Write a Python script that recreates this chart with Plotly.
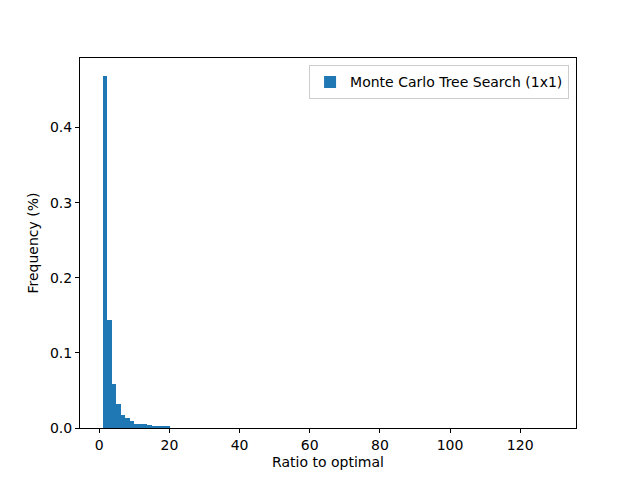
import plotly.graph_objects as go

# histogram of ratio to optimal (density, 100 bins over ~1..128), only visible bins
bin_left = [1.0, 2.27, 3.54, 4.81, 6.08, 7.35, 8.62, 9.89, 11.16, 12.43, 13.7, 14.97, 16.24, 17.51, 18.78]
bin_width = 1.27
freq = [0.469, 0.144, 0.058, 0.0323, 0.0176, 0.0132, 0.0087, 0.0047, 0.0056, 0.0047,
        0.0034, 0.0032, 0.0025, 0.0022, 0.0018]

x_ticks = [0, 20, 40, 60, 80, 100, 120]
y_ticks = [0.0, 0.1, 0.2, 0.3, 0.4]

fig = go.Figure()
fig.add_trace(go.Bar(
    x=bin_left,
    y=freq,
    width=bin_width,
    offset=0,
    name="Monte Carlo Tree Search (1x1)",
    marker=dict(color="#1f77b4", line=dict(width=0)),
    showlegend=True
))

axis_style = dict(
    showline=True, linecolor="black", linewidth=1, mirror=True,
    ticks="outside", ticklen=4, tickwidth=1, tickcolor="black",
    showgrid=False, zeroline=False,
    tickfont=dict(size=14, color="black"),
)

# page body adds an 8px margin, so the figure is 8px smaller and shifted
fig.update_layout(
    width=632, height=472,
    margin=dict(l=72, r=64, t=50, b=45),
    paper_bgcolor="white", plot_bgcolor="white",
    font=dict(family="DejaVu Sans", size=14, color="black"),
    bargap=0,
    xaxis=dict(range=[-5.5, 135.9], tickvals=x_ticks,
               title=dict(text="Ratio to optimal", font=dict(size=14), standoff=5),
               **axis_style),
    yaxis=dict(range=[0, 0.4925], tickvals=y_ticks, tickformat=".1f",
               title=dict(text="Frequency (%)", font=dict(size=14), standoff=8),
               **axis_style),
    legend=dict(x=0.986, y=0.98, xanchor="right", yanchor="top",
                bgcolor="rgba(255,255,255,0.8)", bordercolor="#cccccc", borderwidth=1,
                font=dict(size=14)),
)

fig.write_html("out.html")
